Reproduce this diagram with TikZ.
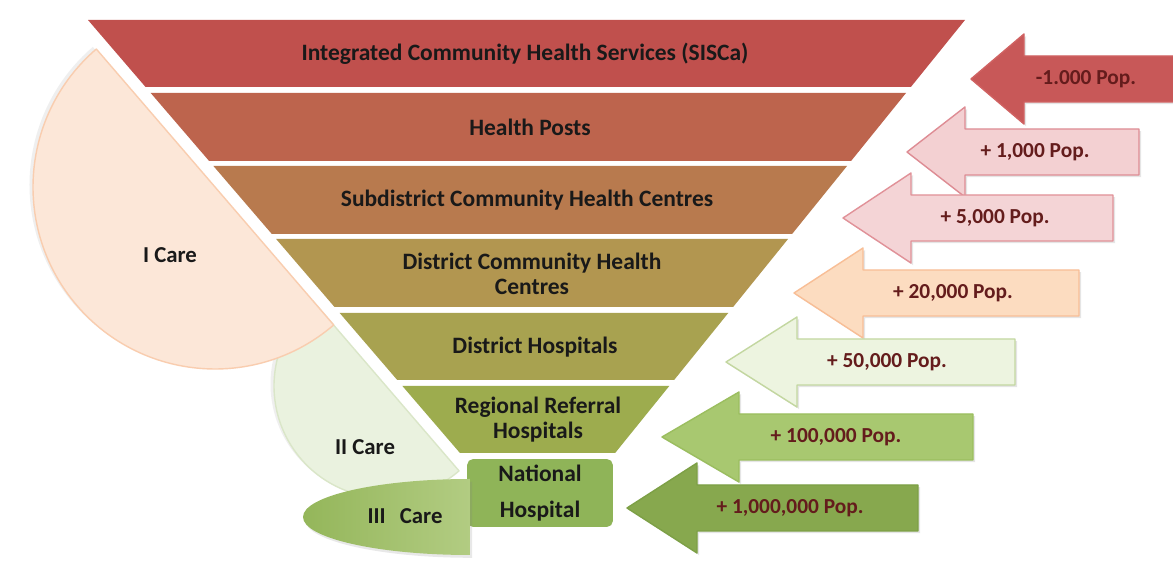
\documentclass[tikz,border=0pt]{standalone}
\usepackage{fontspec}
\setmainfont{Carlito}
\usetikzlibrary{shadows}
\definecolor{bandA}{RGB}{192,80,77}
\definecolor{bandB}{RGB}{189,100,77}
\definecolor{bandC}{RGB}{184,122,78}
\definecolor{bandD}{RGB}{178,150,80}
\definecolor{bandE}{RGB}{168,162,80}
\definecolor{bandF}{RGB}{157,172,78}
\definecolor{bandG}{RGB}{143,180,88}
\definecolor{popfill1}{RGB}{200,88,88}
\definecolor{popline1}{RGB}{208,98,98}
\definecolor{popfill2}{RGB}{243,208,210}
\definecolor{popline2}{RGB}{222,140,148}
\definecolor{popfill3}{RGB}{244,212,214}
\definecolor{popline3}{RGB}{225,145,152}
\definecolor{popfill4}{RGB}{252,220,192}
\definecolor{popline4}{RGB}{248,190,150}
\definecolor{popfill5}{RGB}{237,244,224}
\definecolor{popline5}{RGB}{195,215,160}
\definecolor{popfill6}{RGB}{168,200,112}
\definecolor{popline6}{RGB}{155,190,95}
\definecolor{popfill7}{RGB}{135,168,78}
\definecolor{popline7}{RGB}{125,160,70}
\definecolor{poptext}{RGB}{100,28,28}
\definecolor{careA}{RGB}{252,231,216}
\definecolor{careAline}{RGB}{249,205,175}
\definecolor{careB}{RGB}{234,242,223}
\definecolor{careBline}{RGB}{218,230,200}
\begin{document}
\begin{tikzpicture}[x=0.025cm, y=-0.025cm, line join=round]
	\def\lft#1{88+0.859*(#1-20)}
	\def\rgt#1{965-0.808*(#1-20)}
	\tikzset{bandlabel/.style={text=black!90, align=center,
			font={\fontsize{16.7}{17.7}\selectfont\bfseries}},
		carelabel/.style={text=black!90, font={\fontsize{16.2}{18}\selectfont\bfseries}},
		poplabel/.style={text=poptext, font={\fontsize{15.2}{17}\selectfont\bfseries}},
		arrowbody/.style={line width=1pt,
			drop shadow={shadow xshift=1.5pt, shadow yshift=-1.5pt, opacity=.2}},
		careshadow/.style={drop shadow={shadow xshift=-2.5pt, shadow yshift=1.5pt, opacity=.12}}}
	\clip (0,0) rectangle (1173,569);
	\fill[white] (0,0) rectangle (1173,569);
	% funnel
	\foreach \t/\b/\c in {20/87/bandA, 93/161/bandB, 166/234/bandC,
		239/307/bandD, 313/380/bandE, 386/453/bandF}
	\fill[\c] ({\lft{\t}},\t) -- ({\rgt{\t}},\t) -- ({\rgt{\b}},\b) -- ({\lft{\b}},\b) -- cycle;
	\node[bandlabel] (sisca) at (525,54) {Integrated Community Health Services (SISCa)};
	\node[bandlabel] (posts) at (530,127) {Health Posts};
	\node[bandlabel] (subdist) at (527,200) {Subdistrict Community Health Centres};
	\node[bandlabel] (distchc) at (532,274) {District Community Health\\Centres};
	\node[bandlabel] (disthosp) at (535,347) {District Hospitals};
	\node[bandlabel] (regref) at (538,420) {Regional Referral\\Hospitals};
	\node[bandlabel, fill=bandG, rounded corners=4pt, minimum width=103.5pt,
		minimum height=48.2pt, font={\fontsize{16.7}{25.5}\selectfont\bfseries}]
		(natl) at (540,493) {National\\Hospital};
	% levels of care
	\filldraw[careshadow, fill=careB, draw=careBline, line width=1pt]
		(386,386) ++(49.3:112) arc[start angle=49.3, end angle=229.3, radius=112] -- cycle;
	\filldraw[careshadow, fill=careA, draw=careAline, line width=1pt]
		(215,187) ++(49.3:182) arc[start angle=49.3, end angle=229.3, radius=182] -- cycle;
	\shade[drop shadow={shadow xshift=1.5pt, shadow yshift=-2pt, opacity=.18},
		left color={rgb,255:red,148;green,182;blue,90}, right color={rgb,255:red,178;green,204;blue,130}]
		(470,479) arc[start angle=270, end angle=90, x radius=167, y radius=38] -- cycle;
	\node[carelabel] (icare) at (170,255) {I Care};
	\node[carelabel] (iicare) at (365,447) {II Care};
	\node[carelabel] (iiicare) at (405,516) {III\hspace{10pt}Care};
	% population arrows
	\foreach \tip/\shd/\cy/\rend/\lx/\lbl [count=\i] in {
		971/1024/79/1190/1086/{-1.000 Pop.},
		907/965/152/1139/1035/{+ 1,000 Pop.},
		843/911/218/1113/995/{+ 5,000 Pop.},
		794/863/293/1079/953/{+ 20,000 Pop.},
		726/797/362/1015/887/{+ 50,000 Pop.},
		662/739/437/973/836/{+ 100,000 Pop.},
		627/697/508/918/790/{+ 1,000,000 Pop.}}{
		\filldraw[arrowbody, fill=popfill\i, draw=popline\i] (\tip,\cy) -- (\shd,\cy-45) -- (\shd,\cy-23)
			-- (\rend,\cy-23) -- (\rend,\cy+23) -- (\shd,\cy+23) -- (\shd,\cy+45) -- cycle;
		\node[poplabel] (pop\i) at (\lx,\cy) {\lbl};
	}
\end{tikzpicture}
\end{document}
